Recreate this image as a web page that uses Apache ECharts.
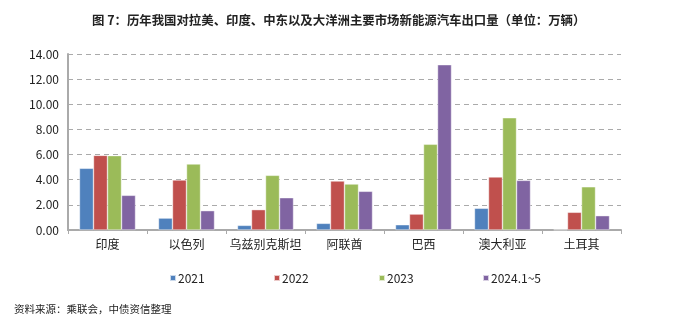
<!DOCTYPE html>
<html><head><meta charset="utf-8">
<script src="https://cdn.jsdelivr.net/npm/echarts@6/dist/echarts.min.js"></script>
<style>html,body{margin:0;padding:0;background:#fff}#c{width:700px;height:326px}</style>
</head><body><div id="c"></div>
<script>
const categories = ['印度','以色列','乌兹别克斯坦','阿联酋','巴西','澳大利亚','土耳其'];
const seriesNames = ['2021','2022','2023','2024.1~5'];
const v2021 = [4.91, 0.95, 0.37, 0.53, 0.42, 1.73, 0.03];
const v2022 = [5.94, 3.98, 1.62, 3.90, 1.27, 4.22, 1.41];
const v2023 = [5.92, 5.25, 4.35, 3.66, 6.82, 8.93, 3.44];
const v2024 = [2.76, 1.54, 2.57, 3.08, 13.15, 3.95, 1.14];
const yTicks = [0, 2, 4, 6, 8, 10, 12, 14];
const colors = ['#4F81BD','#C0504D','#9BBB59','#8064A2'];
const legendLeft = [169, 273, 378, 482];
const font = '"Noto Sans CJK SC", "Noto Sans", sans-serif';
const values = [v2021, v2022, v2023, v2024];
const chart = echarts.init(document.getElementById('c'));
chart.setOption({
  animation: false,
  textStyle: {fontFamily: font},
  title: [{
    text: '图 7：历年我国对拉美、印度、中东以及大洋洲主要市场新能源汽车出口量（单位：万辆）',
    left: 87, top: 9,
    textStyle: {fontFamily: font, fontSize: 12.4, fontWeight: 'bold', color: '#222'}
  },{
    text: '资料来源：乘联会，中债资信整理',
    left: 9, top: 299,
    textStyle: {fontFamily: font, fontSize: 10.5, fontWeight: 'normal', color: '#222'}
  }],
  legend: seriesNames.map((n, i) => ({
    data: [n],
    left: legendLeft[i], top: 272,
    itemWidth: 6, itemHeight: 6, padding: 0,
    icon: 'rect',
    textStyle: {fontFamily: font, fontSize: 12, color: '#222', padding: [0,0,0,-3]}
  })),
  grid: {left: 68, right: 79, top: 54, bottom: 96},
  xAxis: {
    type: 'category', data: categories,
    axisLine: {lineStyle: {color: '#aaa', width: 2}},
    axisTick: {show: true, length: 4, lineStyle: {color: '#aaa'}},
    axisLabel: {color: '#222', fontSize: 12, margin: 8, interval: 0, fontFamily: font}
  },
  yAxis: {
    type: 'value', min: yTicks[0], max: yTicks[yTicks.length-1], interval: 2,
    axisLine: {show: true, lineStyle: {color: '#aaa', width: 2}},
    axisTick: {show: false},
    splitLine: {lineStyle: {color: '#aaa', type: [5,4]}},
    axisLabel: {color: '#222', fontSize: 12, margin: 9, formatter: v => v.toFixed(2), fontFamily: font}
  },
  series: seriesNames.map((n, i) => ({
    name: n, type: 'bar', data: values[i],
    barGap: '0%', barCategoryGap: '29%',
    itemStyle: {color: colors[i], borderColor: 'rgba(255,255,255,0.7)', borderWidth: 0.6}
  }))
});
</script></body></html>
